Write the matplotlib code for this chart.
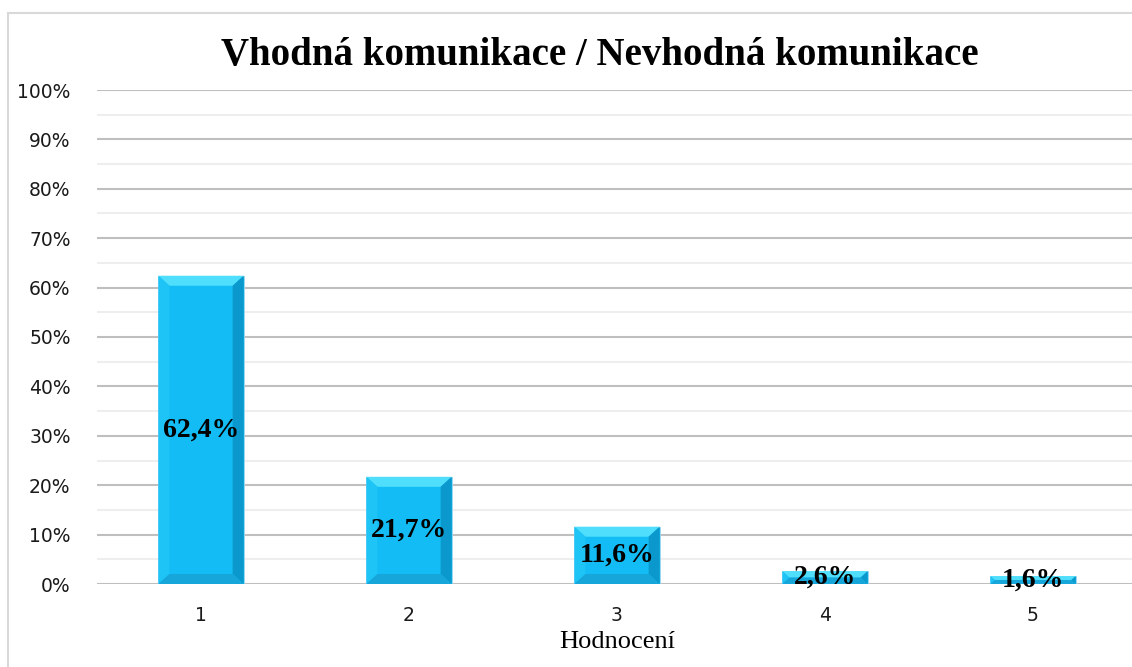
import matplotlib
matplotlib.use("Agg")
import matplotlib.pyplot as plt
from matplotlib.lines import Line2D
from matplotlib.patches import Polygon
from matplotlib.ticker import MultipleLocator, FuncFormatter

categories = ["1", "2", "3", "4", "5"]
values = [62.4, 21.7, 11.6, 2.6, 1.6]
labels = ["62,4%", "21,7%", "11,6%", "2,6%", "1,6%"]

FACE = "#13bcf4"; TOP = "#4fdffc"; LEFT = "#1fc4f6"
RIGHT = "#0b98cc"; BOTTOM = "#16a6da"
SERIF = "Liberation Serif"

W, H = 1132, 667
fig = plt.figure(figsize=(W / 100, H / 100), dpi=100)
fig.patch.set_facecolor("white")

# chart area border: only top and left edges are inside the crop
bx0, by1 = 8 / W, 1 - 13 / H
fig.add_artist(Line2D([bx0, 1.2], [by1, by1], transform=fig.transFigure,
                      color="#d9d9d9", lw=1.5))
fig.add_artist(Line2D([bx0, bx0], [-0.2, by1], transform=fig.transFigure,
                      color="#d9d9d9", lw=1.5))

ax = fig.add_axes([97 / W, 83 / H, 1040 / W, 494 / H])
ax.set_xlim(-0.5, len(categories) - 0.5)
ax.set_ylim(0, 100)
for s in ax.spines.values():
    s.set_visible(False)

ax.yaxis.set_major_locator(MultipleLocator(10))
ax.yaxis.set_minor_locator(MultipleLocator(5))
ax.yaxis.set_major_formatter(FuncFormatter(lambda v, p: f"{v:.0f}%"))
ax.grid(axis="y", which="major", color="#bfbfbf", lw=1.5, zorder=0)
ax.grid(axis="y", which="minor", color="#eeeeee", lw=1.5, zorder=0)
ax.set_axisbelow(True)
ax.tick_params(axis="y", which="both", length=0, pad=19, labelsize=13.5,
               labelcolor="#1a1a1a")
ax.tick_params(axis="x", length=0, pad=16, labelsize=13.5, labelcolor="#1a1a1a")
ax.set_xticks(range(len(categories)))
ax.set_xticklabels(categories)
ax.set_xlabel("Hodnocení", fontfamily=SERIF, fontsize=19, labelpad=4)

bw = 0.41
bars = ax.bar(range(len(categories)), values, width=bw, color=FACE,
              edgecolor="#9fd8ee", lw=0.6, zorder=2)

# bevel: ~10 px in each direction, converted to data units
bx = 11 / 1040 * len(categories)
by = 10 / 494 * 100
for b in bars:
    x0, y0 = b.get_x(), b.get_y()
    x1, y1 = x0 + b.get_width(), y0 + b.get_height()
    d = min(by, b.get_height() / 2)
    dx = bx * d / by
    ix0, ix1, iy0, iy1 = x0 + dx, x1 - dx, y0 + d, y1 - d
    ax.add_patch(Polygon([(x0, y1), (x1, y1), (ix1, iy1), (ix0, iy1)],
                         color=TOP, lw=0, zorder=3))
    ax.add_patch(Polygon([(x0, y0), (x0, y1), (ix0, iy1), (ix0, iy0)],
                         color=LEFT, lw=0, zorder=3))
    ax.add_patch(Polygon([(x1, y0), (x1, y1), (ix1, iy1), (ix1, iy0)],
                         color=RIGHT, lw=0, zorder=3))
    ax.add_patch(Polygon([(x0, y0), (x1, y0), (ix1, iy0), (ix0, iy0)],
                         color=BOTTOM, lw=0, zorder=3))

for i, (v, t) in enumerate(zip(values, labels)):
    ax.text(i, v / 2, t, ha="center", va="center", fontfamily=SERIF,
            fontweight="bold", fontsize=20, color="black", zorder=5)

fig.text(600 / W, 1 - 56 / H, "Vhodná komunikace / Nevhodná komunikace",
         ha="center", va="center", fontfamily=SERIF, fontweight="bold",
         fontsize=28, color="black")

fig.savefig("out.png", dpi=100, facecolor="white")
